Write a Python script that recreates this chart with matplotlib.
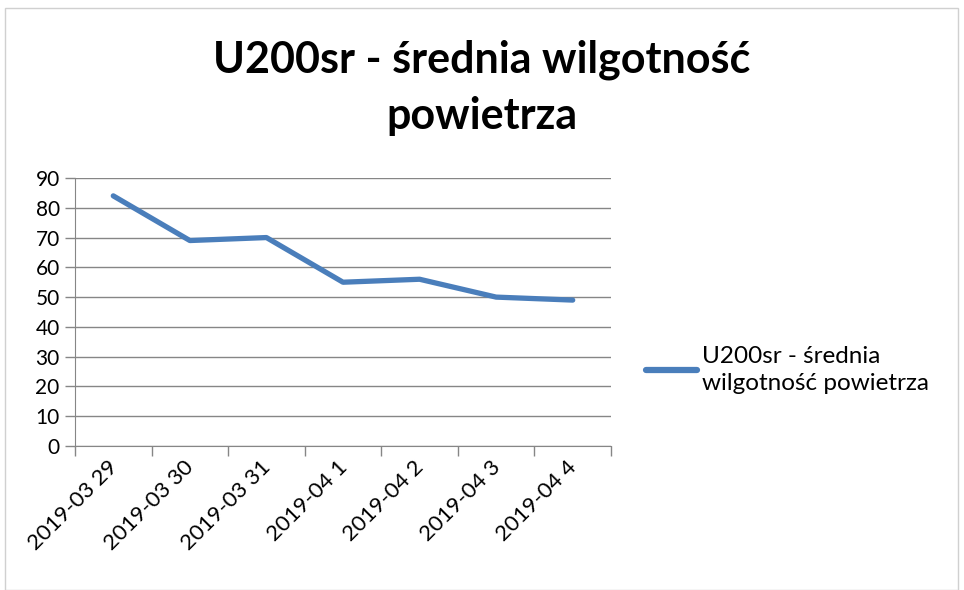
import matplotlib.pyplot as plt
from matplotlib.patches import Rectangle
from matplotlib.transforms import ScaledTranslation

labels = ['2019-03 29', '2019-03 30', '2019-03 31', '2019-04 1', '2019-04 2', '2019-04 3', '2019-04 4']
values = [84, 69, 70, 55, 56, 50, 49]
series_name = 'U200sr - średnia\nwilgotność powietrza'
title = 'U200sr - średnia wilgotność\npowietrza'

plt.rcParams['font.family'] = ['Lato', 'DejaVu Sans']

fig = plt.figure(figsize=(9.64, 5.9), dpi=100)
ax = fig.add_axes([75/964, 1 - 446/590, (611-75)/964, (446-178)/590])

x = list(range(len(values)))
line, = ax.plot(x, values, color='#4A7EBB', lw=3.8, solid_capstyle='round', solid_joinstyle='round')

ax.set_xlim(-0.5, len(values) - 0.5)
ax.set_ylim(0, 90)
ax.set_yticks(range(0, 91, 10))
ax.set_xticks(x)
ax.set_xticklabels(labels, rotation=45, ha='right', rotation_mode='anchor', fontsize=16)
ax.set_xticks([i - 0.5 for i in range(len(values) + 1)], minor=True)
ax.tick_params(axis='x', which='major', length=0, pad=8)
ax.tick_params(axis='x', which='minor', length=7, color='#868686', width=1)
ax.tick_params(axis='y', length=7, color='#868686', width=1, labelsize=15, pad=4)
shift = ScaledTranslation(-6/100, 0, fig.dpi_scale_trans)
for t in ax.get_xticklabels():
    t.set_transform(t.get_transform() + shift)

ax.grid(axis='y', color='#868686', lw=1)
ax.set_axisbelow(True)
for s in ['top', 'right']:
    ax.spines[s].set_visible(False)
for s in ['left', 'bottom']:
    ax.spines[s].set_color('#868686')

fig.text(0.5, 1 - 60/590, title.split('\n')[0], ha='center', va='center', fontsize=31, fontweight='bold')
fig.text(0.5, 1 - 116/590, title.split('\n')[1], ha='center', va='center', fontsize=31, fontweight='bold')

leg = fig.legend([line], [series_name], loc='center left', bbox_to_anchor=(646/964, 1 - 370/590),
                 frameon=False, fontsize=17.5, handlelength=2.1, handletextpad=0.2,
                 borderpad=0, borderaxespad=0)
for t in leg.get_texts():
    t.set_linespacing(1.4)
leg.get_lines()[0].set_linewidth(4.5)

fig.patches.append(Rectangle((5/964, 0), 953/964, 1 - 8/590, transform=fig.transFigure,
                             fill=False, edgecolor='#d0d0d0', lw=1))

fig.savefig('out.png', dpi=100)
